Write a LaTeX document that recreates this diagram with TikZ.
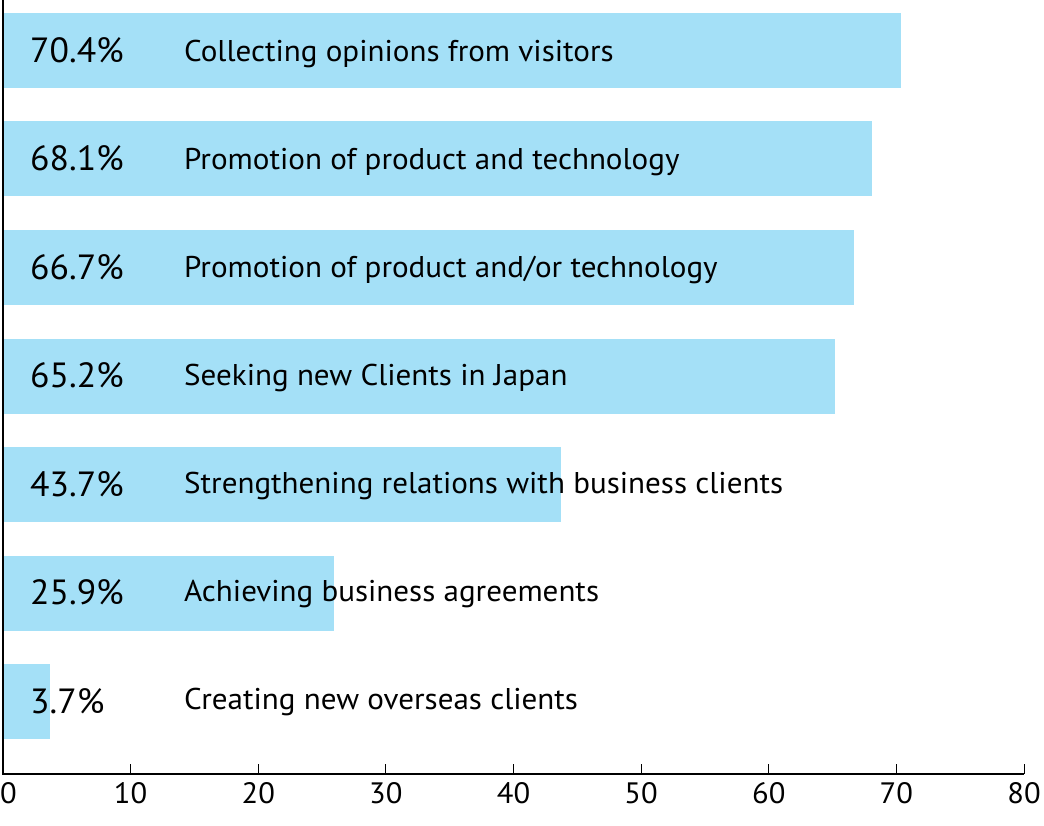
\documentclass[tikz,border=0pt]{standalone}
\usepackage{fontspec}
\setmainfont[FakeStretch=1.035]{PT Sans}
\newfontfamily\pctfont[FakeStretch=1.02]{PT Sans}
\definecolor{barblue}{RGB}{164,224,247}
\begin{document}
\begin{tikzpicture}[x=1pt,y=-1pt,
  bar/.style={fill=barblue,draw=none},
  pct/.style={anchor=base west,inner sep=0pt,font=\pctfont\fontsize{35}{35}\selectfont},
  lbl/.style={anchor=base west,inner sep=0pt,font=\fontsize{30}{30}\selectfont},
  ticklbl/.style={anchor=base,inner sep=0pt,font=\fontsize{29.5}{29.5}\selectfont},
  axis/.style={line width=2pt}]
\useasboundingbox (0,0) rectangle (1044,826);
\def\unit{12.7625}
\foreach \i/\v/\o/\p/\t in {0/70.4/48.7/70.4\%/{Collecting opinions from visitors},
  1/68.1/48.3/68.1\%/{Promotion of product and technology},
  2/66.7/47.8/66.7\%/{Promotion of product and/or technology},
  3/65.2/47.4/65.2\%/{Seeking new Clients in Japan},
  4/43.7/46.8/43.7\%/{Strengthening relations with business clients},
  5/25.9/46.3/25.9\%/{Achieving business agreements},
  6/3.7/45/3.7\%/{Creating new overseas clients}}{
  \pgfmathsetmacro{\top}{13+108.5*\i}
  \pgfmathsetmacro{\right}{3+\v*\unit}
  \fill[bar] (3,\top) rectangle (\right,\top+75);
  \node[pct] (p\i) at (30,\top+49.2) {\p};
  \node[lbl] (l\i) at (184,\top+\o) {\t};
}
\draw[axis] (3,0) -- (3,774) -- (1024,774);
\foreach \k in {0,...,8}{
  \pgfmathsetmacro{\xx}{3+\k*10*\unit}
  \draw[line width=1pt] (\xx,774) -- (\xx,764);
}
\node[ticklbl,anchor=base west] (t0) at (0,803) {0};
\foreach \k in {1,...,8}{
  \pgfmathsetmacro{\xx}{3+\k*10*\unit}
  \node[ticklbl] (t\k) at (\xx,803) {\number\numexpr\k*10\relax};
}
\end{tikzpicture}
\end{document}
